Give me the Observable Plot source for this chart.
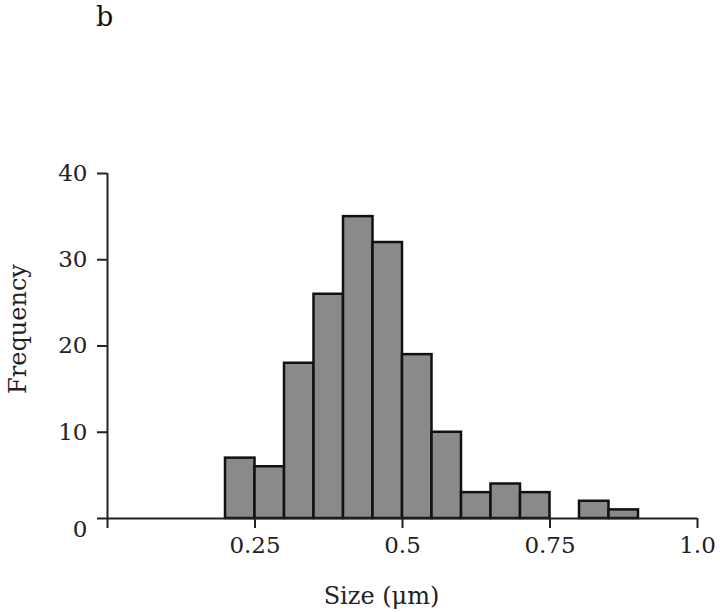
<!DOCTYPE html>
<html>
<head>
<meta charset="utf-8">
<script src="https://cdn.jsdelivr.net/npm/d3@7"></script>
<script src="https://cdn.jsdelivr.net/npm/@observablehq/plot@0.6"></script>
<style>
  html, body { margin: 0; padding: 0; background: #fff; }
  #wrap { position: relative; width: 720px; height: 612px; }
  #panel { position: absolute; left: 96px; top: 4px; line-height: 26px; font-family: "DejaVu Serif", serif; font-size: 27px; color: #111; z-index: 2; }
</style>
</head>
<body>
<div id="wrap"><div id="panel">b</div></div>
<script>
// Histogram of particle size (µm), bin width 0.05
const binStarts = [0.20, 0.25, 0.30, 0.35, 0.40, 0.45, 0.50, 0.55, 0.60, 0.65, 0.70, 0.75, 0.80, 0.85];
const counts    = [7,    6,    18,   26,   35,   32,   19,   10,   3,    4,    3,    0,    2,    1];
const binWidth = 0.05;
const xTicks = [0, 0.25, 0.5, 0.75, 1.0];
const xTickLabels = ["", "0.25", "0.5", "0.75", "1.0"];
const yTicks = [0, 10, 20, 30, 40];
const xLabel = "Size (\u03bcm)";
const yLabel = "Frequency";

const bins = binStarts.map((s, i) => ({x1: s, x2: s + binWidth, count: counts[i]}));
const font = "DejaVu Serif, serif";

const chart = Plot.plot({
  width: 720,
  height: 612,
  marginLeft: 107,
  marginRight: 23,
  marginTop: 173,
  marginBottom: 94,
  style: {fontFamily: font, fontSize: "23px", color: "#222", background: "white"},
  x: {domain: [0, 1]},
  y: {domain: [0, 40]},
  marks: [
    Plot.rectY(bins, {filter: d => d.count > 0, x1: "x1", x2: "x2", y: "count",
      fill: "#8a8a8a", stroke: "#111", strokeWidth: 2.5, insetLeft: 0, insetRight: 0}),
    Plot.ruleY([0], {stroke: "#222", strokeWidth: 2}),
    Plot.ruleX([0], {y1: 0, y2: 40, stroke: "#222", strokeWidth: 2}),
    Plot.axisY({ticks: yTicks.filter(d => d !== 0), tickSize: 10, tickPadding: 10,
      tickFormat: d => String(d), stroke: "#222", strokeWidth: 2, label: null, fontSize: 23}),
    Plot.axisY({ticks: [0], tickSize: 10, tickPadding: 10, tickFormat: () => "",
      stroke: "#222", strokeWidth: 2, label: null}),
    Plot.axisY({ticks: [0], tickSize: 0, tickPadding: 20, dy: 11,
      tickFormat: d => String(d), label: null, fontSize: 23}),
    Plot.axisX({ticks: xTicks, tickSize: 10, tickPadding: 8,
      tickFormat: d => xTickLabels[xTicks.indexOf(d)], stroke: "#222", strokeWidth: 2, label: null, fontSize: 23}),
    Plot.text([xLabel], {frameAnchor: "bottom", dx: -21, dy: 78, lineAnchor: "middle",
      textAnchor: "middle", fontSize: 24, fill: "#222"}),
    Plot.text([yLabel], {frameAnchor: "left", dx: -89, dy: -17, rotate: -90, lineAnchor: "middle",
      textAnchor: "middle", fontSize: 24, fill: "#222"})
  ]
});
document.getElementById("wrap").appendChild(chart);
</script>
</body>
</html>
